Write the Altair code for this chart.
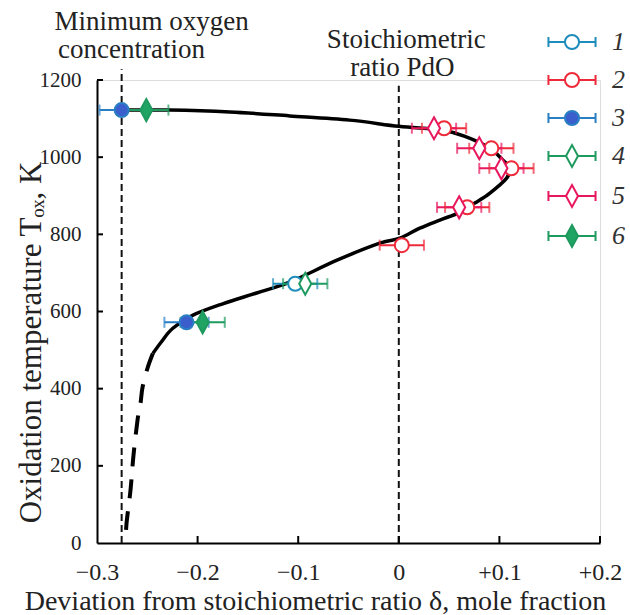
import altair as alt
import pandas as pd

# ---------------- data ----------------
series_ids = ["1", "2", "3", "4", "5", "6"]
series_stroke = ["#1f8dbb", "#ee2a3a", "#2a7fc4", "#1e9a5e", "#e8175d", "#1e9a5e"]
series_fill = ["#ffffff", "#ffffff", "#3a5fcd", "#ffffff", "#ffffff", "#1fa463"]
series_kind = ["circle", "circle", "circle", "diamond", "diamond", "diamond"]

s1_delta = [-0.103]
s1_T = [672]
s2_delta = [0.045, 0.092, 0.112, 0.068, 0.003]
s2_T = [1075, 1023, 971, 870, 772]
s3_delta = [-0.2755, -0.211]
s3_T = [1122, 572]
s4_delta = [-0.093]
s4_T = [672]
s5_delta = [0.035, 0.080, 0.102, 0.060]
s5_T = [1075, 1023, 971, 870]
s6_delta = [-0.251, -0.195]
s6_T = [1122, 572]
err_half = 0.022

curve_solid_delta = [-0.2755, -0.228, -0.168, -0.1085, -0.0488, 0.0, 0.0438, 0.0677,
                     0.0906, 0.1035, 0.1104, 0.107, 0.0906, 0.0756, 0.0607, 0.0408,
                     0.0209, 0.001, -0.0189, -0.0614, -0.1085, -0.1413, -0.175,
                     -0.205, -0.2249, -0.2361, -0.2445]
curve_solid_T = [1122, 1122, 1117, 1107, 1096, 1080, 1070, 1052,
                 1023, 992, 972, 945, 907, 881, 857, 837,
                 816, 790, 777, 733, 676, 648, 620,
                 590, 556, 521, 491]
curve_dash_delta = [-0.2445, -0.2498, -0.2547, -0.2567, -0.2597, -0.2637, -0.2667, -0.2706, -0.2716]
curve_dash_T = [491, 453, 404, 363, 319, 228, 137, 52, 0]

ref_delta = [-0.2755, 0.0]
ref_top = [1228, 1185]

x_ticks = [-0.3, -0.2, -0.1, 0.0, 0.1, 0.2]
y_ticks = [0, 200, 400, 600, 800, 1000, 1200]
inner_x_ticks = [-0.2, -0.1, 0.0, 0.1, 0.2]
inner_y_ticks = [200, 400, 600, 800, 1000, 1200]

ann_text = ["Minimum oxygen", "concentration", "Stoichiometric", "ratio PdO"]
ann_delta = [-0.2458, -0.2657, 0.0075, 0.0035]
ann_T = [1350, 1277, 1303, 1231]

# ---------------- tables ----------------
rows = []
for sid, ds, ts in zip(series_ids,
                       [s1_delta, s2_delta, s3_delta, s4_delta, s5_delta, s6_delta],
                       [s1_T, s2_T, s3_T, s4_T, s5_T, s6_T]):
    k = series_ids.index(sid)
    for d, t in zip(ds, ts):
        rows.append({"series": sid, "delta": d, "T": t, "lo": d - err_half,
                     "hi": d + err_half, "kind": series_kind[k],
                     "col": series_stroke[k]})
pts = pd.DataFrame(rows)
caps = pd.concat([pts.assign(cap=pts["lo"]), pts.assign(cap=pts["hi"])],
                 ignore_index=True)

solid = pd.DataFrame({"delta": curve_solid_delta, "T": curve_solid_T,
                      "i": range(len(curve_solid_T))})
dashed = pd.DataFrame({"delta": curve_dash_delta, "T": curve_dash_T,
                       "i": range(len(curve_dash_T))})
refs = pd.DataFrame({"delta": ref_delta, "T0": [0, 0], "T1": ref_top})
ann = pd.DataFrame({"text": ann_text, "delta": ann_delta, "T": ann_T})
xt = pd.DataFrame({"v": inner_x_ticks})
yt = pd.DataFrame({"v": inner_y_ticks})

FONT = "Liberation Serif, 'Times New Roman', 'DejaVu Serif', serif"
DIAMOND = "M0,-1L0.55,0L0,1L-0.55,0Z"
LEG_CIRCLE = ("M-1.57,0H-0.47A0.47,0.47,0,1,1,0.47,0A0.47,0.47,0,1,1,-0.47,0"
              "M0.47,0H1.57M-1.57,-0.33V0.33M1.57,-0.33V0.33")
LEG_DIAMOND = ("M-1.57,0H-0.4M-0.4,0L0,-0.73L0.4,0L0,0.73Z"
               "M0.4,0H1.57M-1.57,-0.33V0.33M1.57,-0.33V0.33")
leg_shapes = [LEG_CIRCLE if k == "circle" else LEG_DIAMOND for k in series_kind]

xscale = alt.Scale(domain=[-0.3, 0.2], nice=False, zero=False)
yscale = alt.Scale(domain=[0, 1200], nice=False)
stroke_scale = alt.Scale(domain=series_ids, range=series_stroke)
fill_scale = alt.Scale(domain=series_ids, range=series_fill)
shape_scale = alt.Scale(domain=series_ids, range=leg_shapes)

x_axis = alt.Axis(
    values=x_ticks, ticks=False, grid=False, domainColor="black", domainWidth=2,
    labelFont=FONT, labelFontSize=24, labelColor="#222", labelPadding=17,
    labelFlush=False,
    labelExpr="datum.value > 0.001 ? '+' + format(datum.value, '.1f') : "
              "(datum.value < -0.001 ? '\u2212' + format(-datum.value, '.1f') : '0')",
    title="Deviation from stoichiometric ratio \u03b4, mole fraction",
    titleFont=FONT, titleFontSize=28, titleFontWeight="normal", titleColor="#222",
    titleX=218, titlePadding=3,
)
y_axis = alt.Axis(
    values=y_ticks, ticks=False, grid=False, domainColor="black", domainWidth=2,
    labelFont=FONT, labelFontSize=21, labelColor="#222", labelPadding=16,
    format="d", labelFlush=False,
    title="Oxidation temperature T\u2092\u2093, K",
    titleFont=FONT, titleFontSize=31, titleFontWeight="normal", titleColor="#222",
    titleX=-57, titleY=262, titleBaseline="alphabetic", titleAlign="center",
)

X = alt.X("delta:Q", scale=xscale, axis=x_axis)
Y = alt.Y("T:Q", scale=yscale, axis=y_axis)

leg = alt.Legend(
    title=None, orient="none", legendX=459, legendY=-54, padding=0,
    labelFont=FONT, labelFontStyle="italic", labelFontSize=26, labelColor="#333",
    symbolSize=900, symbolStrokeWidth=2, rowPadding=9, labelOffset=24)

ref_lines = alt.Chart(refs).mark_rule(color="#111", strokeWidth=2, strokeDash=[7, 4]).encode(
    x=alt.X("delta:Q", scale=xscale, axis=x_axis),
    y=alt.Y("T0:Q", scale=yscale, axis=y_axis),
    y2="T1:Q",
)

solid_line = alt.Chart(solid).mark_line(color="black", strokeWidth=3.5,
                                        interpolate="cardinal").encode(
    x=X, y=Y, order="i:Q")
dash_line = alt.Chart(dashed).mark_line(color="black", strokeWidth=4, strokeDash=[19, 13],
                                        interpolate="cardinal").encode(
    x=X, y=Y, order="i:Q")

err = alt.Chart(pts).mark_rule(strokeWidth=2).encode(
    x=alt.X("lo:Q", scale=xscale, axis=x_axis), x2="hi:Q", y=Y,
    color=alt.Color("col:N", scale=None))
capm = alt.Chart(caps).mark_tick(orient="vertical", size=11, thickness=2).encode(
    x=alt.X("cap:Q", scale=xscale, axis=x_axis), y=Y,
    color=alt.Color("col:N", scale=None))

circles = alt.Chart(pts).transform_filter("datum.kind == 'circle'").mark_point(
    shape="circle", size=196, strokeWidth=2, opacity=1, fillOpacity=1).encode(
    x=X, y=Y,
    stroke=alt.Stroke("series:N", scale=stroke_scale, legend=leg),
    fill=alt.Fill("series:N", scale=fill_scale, legend=leg))
diamonds = alt.Chart(pts).transform_filter("datum.kind == 'diamond'").mark_point(
    shape=DIAMOND, size=484, strokeWidth=2, opacity=1, fillOpacity=1).encode(
    x=X, y=Y,
    stroke=alt.Stroke("series:N", scale=stroke_scale, legend=leg),
    fill=alt.Fill("series:N", scale=fill_scale, legend=leg))

legend_layer = alt.Chart(pts).transform_filter("datum.series == 'none'").mark_point(
    strokeWidth=2, opacity=1, fillOpacity=1).encode(
    x=X, y=Y,
    shape=alt.Shape("series:N", scale=shape_scale, legend=leg),
    stroke=alt.Stroke("series:N", scale=stroke_scale, legend=leg),
    fill=alt.Fill("series:N", scale=fill_scale, legend=leg),
)

texts = alt.Chart(ann).mark_text(font=FONT, fontSize=27, color="#222", align="center",
                                 baseline="middle").encode(x=X, y=Y, text="text:N")

xtick = alt.Chart(xt).mark_rule(color="black", strokeWidth=2).encode(
    x=alt.X("v:Q", scale=xscale, axis=x_axis), y=alt.value(463), y2=alt.value(456))
ytick = alt.Chart(yt).mark_rule(color="black", strokeWidth=2).encode(
    y=alt.Y("v:Q", scale=yscale, axis=y_axis), x=alt.value(0), x2=alt.value(6))

chart = alt.layer(
    ref_lines, solid_line, dash_line, err, capm, circles, diamonds, legend_layer,
    texts, xtick, ytick
).properties(
    width=503, height=463, autosize="none",
    padding={"left": 97, "top": 80, "right": 30, "bottom": 72},
).configure_view(stroke=None).configure(background="white")

chart.save("out.html", embed_options={"renderer": "svg", "actions": False})
